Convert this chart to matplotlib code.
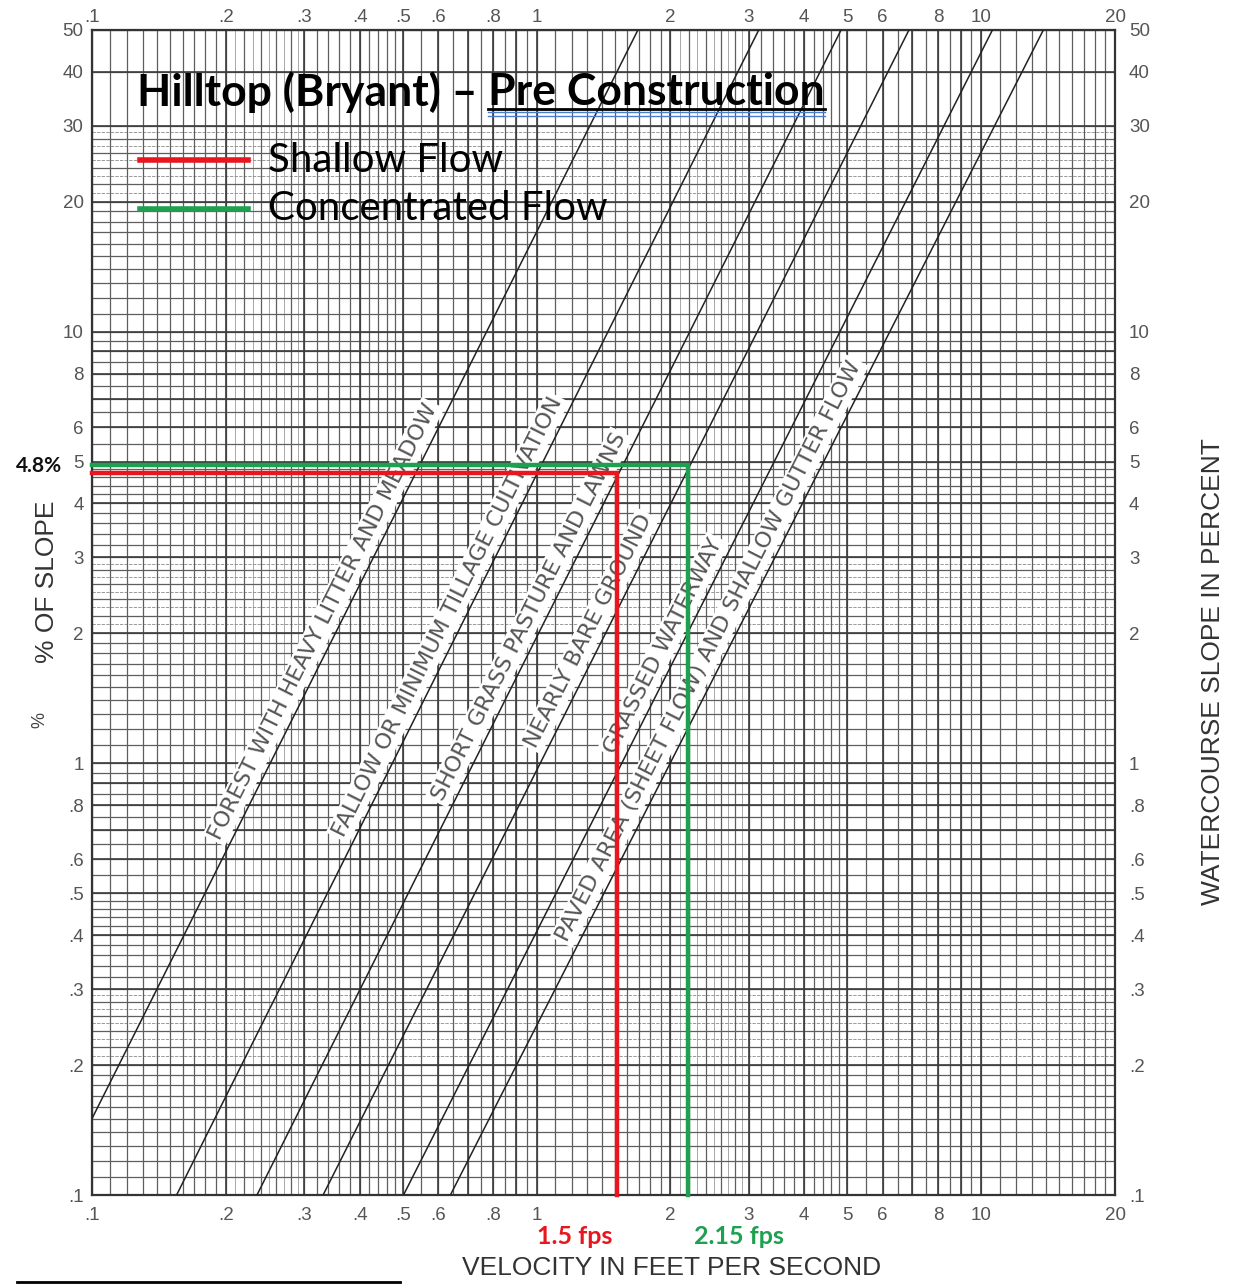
import numpy as np
import matplotlib
matplotlib.use("Agg")
import matplotlib.pyplot as plt

# --- data ---
# overland flow lines, velocity (ft/s) where each line meets 0.1 % and 50 % slope
line_labels = [
    "FOREST WITH HEAVY LITTER AND MEADOW",
    "FALLOW OR MINIMUM TILLAGE CULTIVATION",
    "SHORT GRASS PASTURE AND LAWNS",
    "NEARLY BARE GROUND",
    "GRASSED WATERWAY",
    "PAVED AREA (SHEET FLOW) AND SHALLOW GUTTER FLOW",
]
v_at_low_slope = [0.082, 0.155, 0.235, 0.331, 0.502, 0.640]
v_at_high_slope = [1.69, 3.16, 4.84, 6.88, 10.6, 13.8]
slope_ends = [0.1, 50]

# picked points
flow_names = ["Shallow Flow", "Concentrated Flow"]
flow_velocity = [1.52, 2.19]
flow_slope = [4.7, 4.9]
flow_text = ["1.5 fps", "2.15 fps"]
flow_colors = ["#e8161e", "#1ea050"]

x_ticks = [0.1, 0.2, 0.3, 0.4, 0.5, 0.6, 0.8, 1, 2, 3, 4, 5, 6, 8, 10, 20]
x_ticklabels = [".1", ".2", ".3", ".4", ".5", ".6", ".8", "1", "2", "3", "4", "5", "6", "8", "10", "20"]
y_ticks = [0.1, 0.2, 0.3, 0.4, 0.5, 0.6, 0.8, 1, 2, 3, 4, 5, 6, 8, 10, 20, 30, 40, 50]
y_ticklabels = [".1", ".2", ".3", ".4", ".5", ".6", ".8", "1", "2", "3", "4", "5", "6", "8", "10", "20", "30", "40", "50"]

W, H = 1235, 1284
fig = plt.figure(figsize=(W / 100, H / 100), dpi=100)
L, R, T, B = 92, 1115, 30, 1195
ax = fig.add_axes([L / W, 1 - B / H, (R - L) / W, (B - T) / H])
ax.set_xscale("log")
ax.set_yscale("log")
ax.set_xlim(0.1, 20)
ax.set_ylim(0.1, 50)


# graph paper grid
def paper(lo, hi):
    major, minor, faint = [], [], []
    for d in [0.1, 1, 10]:
        for m in range(1, 10):
            major.append(m * d)
        minor += list(np.arange(1, 2, 0.1) * d) + list(np.arange(2, 5, 0.2) * d) + list(np.arange(5, 10, 0.5) * d)
        faint += list(np.arange(2.1, 3, 0.2) * d)
    keep = lambda vals: [v for v in vals if lo * 0.999 <= v <= hi * 1.001]
    return keep(major), keep(minor), keep(faint)


xmaj, xmin, xfaint = paper(0.1, 20)
ymaj, ymin, yfaint = paper(0.1, 50)
# the top band of the sheet is ruled coarser
ymin = [y for y in ymin if y <= 30.01 or abs(y % 5) < 0.01]
ax.vlines(xfaint, 0.1, 50, color="#9a9a9a", lw=0.6, zorder=1)
ax.hlines(yfaint, 0.1, 20, color="#8a8a8a", lw=0.6, linestyles=(0, (4, 1.5)), zorder=1)
ax.vlines(xmin, 0.1, 50, color="#5e5e5e", lw=0.9, zorder=1)
ax.hlines(ymin, 0.1, 20, color="#5e5e5e", lw=0.9, zorder=1)
ax.vlines(xmaj, 0.1, 50, color="#3c3c3c", lw=1.2, zorder=1)
ax.hlines(ymaj, 0.1, 20, color="#3c3c3c", lw=1.2, zorder=1)

for s in ax.spines.values():
    s.set_linewidth(1.6)
    s.set_color("#333333")

# diagonal lines with their labels in white strips
label_slope = [2.05, 2.1, 2.1, 1.95, 1.8, 1.75]
for name, v0, v1, sl in zip(line_labels, v_at_low_slope, v_at_high_slope, label_slope):
    ax.plot([v0, v1], slope_ends, color="#222222", lw=1.1, zorder=3)
    p0 = ax.transData.transform((v0, slope_ends[0]))
    p1 = ax.transData.transform((v1, slope_ends[1]))
    ang = np.arctan2(p1[1] - p0[1], p1[0] - p0[0])
    frac = np.log(sl / slope_ends[0]) / np.log(slope_ends[1] / slope_ends[0])
    p = p0 + frac * (p1 - p0)
    p = p + 16 * np.array([-np.sin(ang), np.cos(ang)])
    xd, yd = ax.transData.inverted().transform(p)
    ax.text(xd, yd, name, rotation=np.degrees(ang), rotation_mode="anchor",
            ha="center", va="center", fontsize=16, color="#555555",
            family="DejaVu Sans", zorder=4,
            bbox=dict(fc="white", ec="none", pad=2.0))

# picked velocities
for v, s, c in zip(flow_velocity, flow_slope, flow_colors):
    ax.plot([0.1, v, v], [s, s, 0.1], color=c, lw=3.2, zorder=6, clip_on=False,
            solid_joinstyle="miter")

# ticks
tick_color = "#555555"
ax.set_xticks(x_ticks, x_ticklabels)
ax.set_yticks(y_ticks, y_ticklabels)
ax.minorticks_off()
ax.tick_params(length=0, labelsize=13.5, colors=tick_color, pad=9)
ax.tick_params(axis="y", pad=6)
for lab in ax.get_xticklabels() + ax.get_yticklabels():
    lab.set_family("Liberation Sans")

top = ax.secondary_xaxis("top")
top.set_xticks(x_ticks, x_ticklabels)
top.tick_params(length=0, labelsize=13.5, colors=tick_color, pad=3)
right = ax.secondary_yaxis("right")
right.set_yticks(y_ticks, y_ticklabels)
right.tick_params(length=0, labelsize=13.5, colors=tick_color, pad=10)
for a in [top, right]:
    a.minorticks_off()
    for s in a.spines.values():
        s.set_visible(False)
    for lab in a.get_xticklabels() + a.get_yticklabels():
        lab.set_family("Liberation Sans")

# axis titles
fig.text(672 / W, 1 - 1268 / H, "VELOCITY IN FEET PER SECOND", ha="center", va="center",
         fontsize=19, color="#333333", family="Liberation Sans")
fig.text(1213 / W, 1 - 672 / H, "WATERCOURSE SLOPE IN PERCENT", ha="center", va="center",
         rotation=90, fontsize=19, color="#333333", family="Liberation Sans")
fig.text(47 / W, 1 - 582 / H, "% OF SLOPE", ha="center", va="center",
         rotation=90, fontsize=19, color="#333333", family="Liberation Sans")
fig.text(40 / W, 1 - 720 / H, "%", ha="center", va="center",
         rotation=90, fontsize=13, color="#444444", family="Liberation Sans")

# annotations
fig.text(39 / W, 1 - 466 / H, "4.8%", ha="center", va="center", fontsize=15,
         fontweight="bold", color="#111111", family="Lato")
fig.text(575 / W, 1 - 1236 / H, flow_text[0], ha="center", va="center", fontsize=18,
         fontweight="bold", color=flow_colors[0], family="Lato")
fig.text(739 / W, 1 - 1236 / H, flow_text[1], ha="center", va="center", fontsize=18,
         fontweight="bold", color=flow_colors[1], family="Lato")

# title and legend
fig.canvas.draw()
rend = fig.canvas.get_renderer()
t1 = fig.text(137 / W, 1 - 92 / H, "Hilltop (Bryant) \u2013 ", ha="left", va="center",
              fontsize=32, fontweight="bold", color="black", family="Lato", zorder=10)
bb = t1.get_window_extent(rend)
t2 = fig.text(bb.x1 / W, 1 - 92 / H, "Pre Construction", ha="left", va="center",
              fontsize=32, fontweight="bold", color="black", family="Lato", zorder=10)
bb2 = t2.get_window_extent(rend)
fig.add_artist(plt.Line2D([bb2.x0 / W, bb2.x1 / W], [1 - 109 / H] * 2, color="black", lw=2))
fig.add_artist(plt.Line2D([bb2.x0 / W, bb2.x1 / W], [1 - 112 / H] * 2, color="#4a7cd0", lw=1))
fig.add_artist(plt.Line2D([bb2.x0 / W, bb2.x1 / W], [1 - 116 / H] * 2, color="#4a7cd0", lw=1))

for i, (name, c) in enumerate(zip(flow_names, flow_colors)):
    yy = 1 - (160 + 49 * i) / H
    fig.add_artist(plt.Line2D([140 / W, 248 / W], [yy, yy], color=c, lw=4))
    fig.text(268 / W, yy, name, ha="left", va="center", fontsize=29,
             color="black", family="Lato", zorder=10)

# leftover rule at the page bottom
fig.add_artist(plt.Line2D([17 / W, 400 / W], [1 - 1282 / H] * 2, color="black", lw=2))

fig.savefig("out.png", dpi=100)
